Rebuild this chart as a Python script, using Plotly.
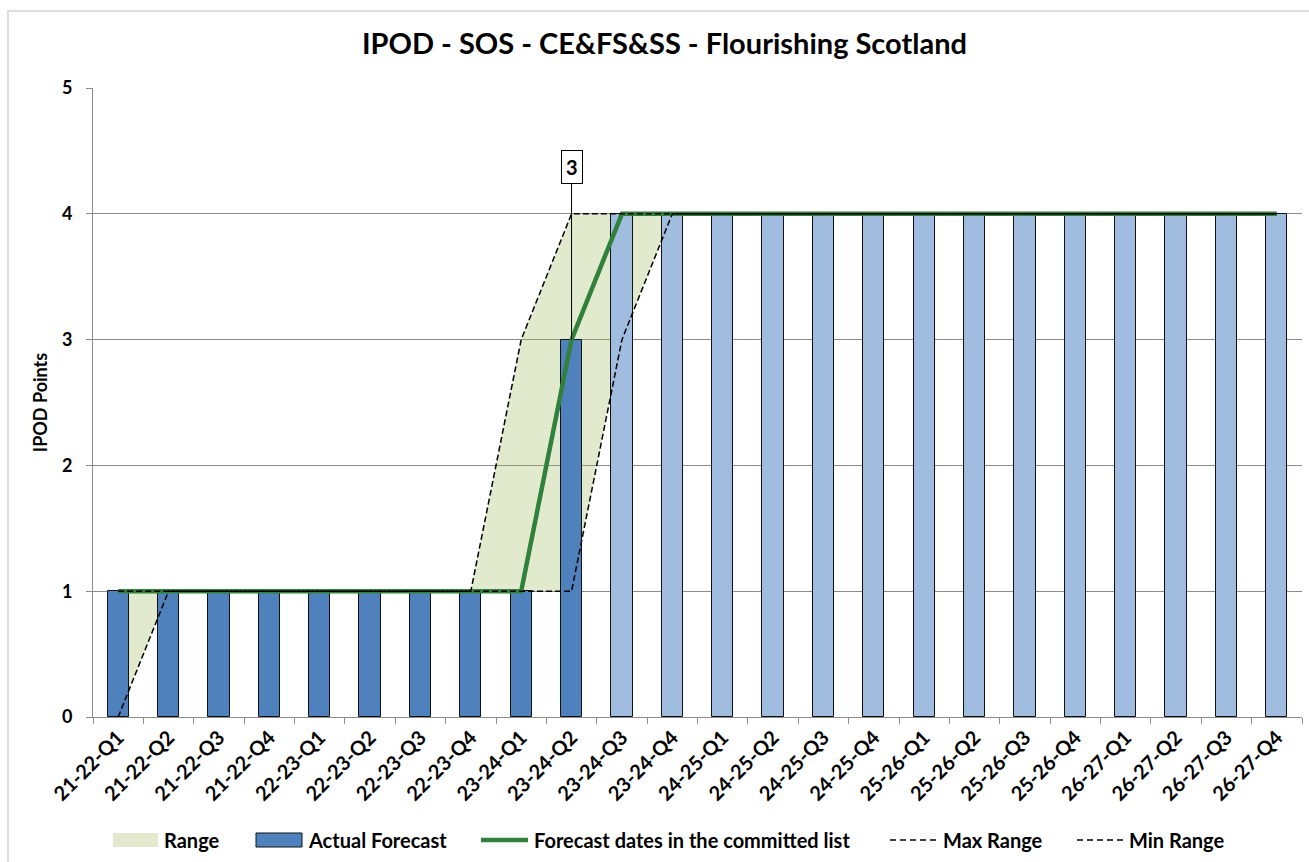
import plotly.graph_objects as go

# Quarterly periods on the category axis
quarters = [
    "21-22-Q1", "21-22-Q2", "21-22-Q3", "21-22-Q4",
    "22-23-Q1", "22-23-Q2", "22-23-Q3", "22-23-Q4",
    "23-24-Q1", "23-24-Q2", "23-24-Q3", "23-24-Q4",
    "24-25-Q1", "24-25-Q2", "24-25-Q3", "24-25-Q4",
    "25-26-Q1", "25-26-Q2", "25-26-Q3", "25-26-Q4",
    "26-27-Q1", "26-27-Q2", "26-27-Q3", "26-27-Q4",
]

# IPOD points per quarter
actual_forecast = [1, 1, 1, 1, 1, 1, 1, 1, 1, 3, 4, 4, 4, 4, 4, 4, 4, 4, 4, 4, 4, 4, 4, 4]
committed = [1, 1, 1, 1, 1, 1, 1, 1, 1, 3, 4, 4, 4, 4, 4, 4, 4, 4, 4, 4, 4, 4, 4, 4]
max_range = [1, 1, 1, 1, 1, 1, 1, 1, 3, 4, 4, 4, 4, 4, 4, 4, 4, 4, 4, 4, 4, 4, 4, 4]
min_range = [0, 1, 1, 1, 1, 1, 1, 1, 1, 1, 3, 4, 4, 4, 4, 4, 4, 4, 4, 4, 4, 4, 4, 4]
n_actual = 10          # quarters already delivered (solid colour)
label_quarter = "23-24-Q2"
label_value = 3

FONT = "Lato"
DARK_BLUE = "#4F81BD"
LIGHT_BLUE = "#A0BCDF"
GREEN = "#31803B"
RANGE_FILL = "rgba(155,187,89,0.30)"
GRID = "#8C8C8C"
DASH = "6px,3px"

# plot-area geometry (pixels)
W, H = 1309, 862
L, R, T, B = 93, 1302, 88, 717


def px_x(p):
    return (p - L) / (R - L)


def px_y(p):
    return (B - p) / (B - T)


fig = go.Figure()

# Range band (min -> max) on the base axes, so it sits beneath the bars
fig.add_trace(go.Scatter(x=quarters, y=min_range, mode="lines", line=dict(width=0),
                         hoverinfo="skip", showlegend=False, xaxis="x", yaxis="y"))
fig.add_trace(go.Scatter(x=quarters, y=max_range, mode="lines", line=dict(width=0),
                         fill="tonexty", fillcolor=RANGE_FILL, name="Range",
                         showlegend=False, xaxis="x", yaxis="y"))

# Bars and lines on the overlay axes
bar_colors = [DARK_BLUE if i < n_actual else LIGHT_BLUE for i in range(len(quarters))]
fig.add_trace(go.Bar(x=quarters, y=actual_forecast, name="Actual Forecast", width=0.42,
                     marker=dict(color=bar_colors, line=dict(color="#111111", width=1)),
                     showlegend=False, xaxis="x2", yaxis="y2"))
fig.add_trace(go.Scatter(x=quarters, y=committed, mode="lines",
                         name="Forecast dates in the committed list",
                         line=dict(color=GREEN, width=4.5),
                         showlegend=False, xaxis="x2", yaxis="y2"))
fig.add_trace(go.Scatter(x=quarters, y=max_range, mode="lines", name="Max Range",
                         line=dict(color="black", width=1.5, dash=DASH),
                         showlegend=False, xaxis="x2", yaxis="y2"))
fig.add_trace(go.Scatter(x=quarters, y=min_range, mode="lines", name="Min Range",
                         line=dict(color="black", width=1.5, dash=DASH),
                         showlegend=False, xaxis="x2", yaxis="y2"))

xrange = [-0.5, len(quarters) - 0.5]

fig.update_layout(
    width=W, height=H,
    margin=dict(l=L, r=W - R, t=T, b=H - B),
    paper_bgcolor="white", plot_bgcolor="white",
    font=dict(family=FONT, color="black"),
    showlegend=False,
    bargap=0,
    title=dict(text="<b>IPOD - SOS - CE&FS&SS - Flourishing Scotland</b>",
               x=664.5 / W, xref="container", xanchor="center",
               y=1 - 44 / H, yref="container", yanchor="middle",
               font=dict(family=FONT, size=29, color="black")),
    xaxis=dict(type="category", categoryorder="array", categoryarray=quarters,
               range=xrange, tickangle=-45,
               tickfont=dict(family=FONT, size=20, color="black", weight="bold"),
               showgrid=False, showline=True, linecolor=GRID, linewidth=1,
               ticks="outside", tickson="boundaries", ticklen=6, tickcolor=GRID,
               zeroline=False),
    yaxis=dict(range=[0, 5], dtick=1,
               tickfont=dict(family=FONT, size=18, color="black", weight="bold"),
               ticklabelstandoff=10,
               showgrid=True, gridcolor=GRID, gridwidth=1,
               showline=True, linecolor=GRID, linewidth=1,
               ticks="outside", ticklen=6, tickcolor=GRID, zeroline=False,
               title=dict(text="<b>IPOD Points</b>", standoff=9,
                          font=dict(family=FONT, size=18, color="black"))),
    xaxis2=dict(type="category", categoryorder="array", categoryarray=quarters,
                range=xrange, overlaying="x", visible=False),
    yaxis2=dict(range=[0, 5], overlaying="y", visible=False),
)

# Callout for the latest delivered value
fig.add_annotation(x=label_quarter, y=label_value, xref="x2", yref="y2",
                   text=f"<b>{label_value}</b>", showarrow=True, arrowhead=0,
                   arrowwidth=1, arrowcolor="black", ax=0, ay=-173,
                   font=dict(family=FONT, size=20, color="black"),
                   bgcolor="white", bordercolor="black", borderwidth=1, borderpad=4)

# Chart frame
fig.add_shape(type="rect", xref="paper", yref="paper",
              x0=px_x(8), x1=px_x(1330), y0=px_y(890), y1=px_y(11),
              line=dict(color="#D3D3D3", width=1.5), fillcolor="rgba(0,0,0,0)", layer="below")

# Legend row
ly = px_y(840)
legend_font = dict(family=FONT, size=20, color="black")
fig.add_shape(type="rect", xref="paper", yref="paper",
              x0=px_x(113), x1=px_x(158), y0=px_y(847), y1=px_y(833),
              fillcolor=RANGE_FILL, line=dict(width=0))
fig.add_shape(type="rect", xref="paper", yref="paper",
              x0=px_x(256), x1=px_x(302), y0=px_y(847), y1=px_y(833),
              fillcolor=DARK_BLUE, line=dict(color="#111111", width=1))
fig.add_shape(type="line", xref="paper", yref="paper",
              x0=px_x(481), x1=px_x(528), y0=ly, y1=ly,
              line=dict(color=GREEN, width=4.5))
for x0, x1 in [(890, 938), (1077, 1125)]:
    fig.add_shape(type="line", xref="paper", yref="paper",
                  x0=px_x(x0), x1=px_x(x1), y0=ly, y1=ly,
                  line=dict(color="black", width=1.5, dash="6px,4px"))

legend_items = [(162, "Range"), (306, "Actual Forecast"),
                (532, "Forecast dates in the committed list"),
                (941, "Max Range"), (1127, "Min Range")]
for xpos, label in legend_items:
    fig.add_annotation(x=px_x(xpos), y=ly, xref="paper", yref="paper",
                       text=f"<b>{label}</b>", showarrow=False,
                       xanchor="left", yanchor="middle", font=legend_font)

fig.write_html("out.html")
